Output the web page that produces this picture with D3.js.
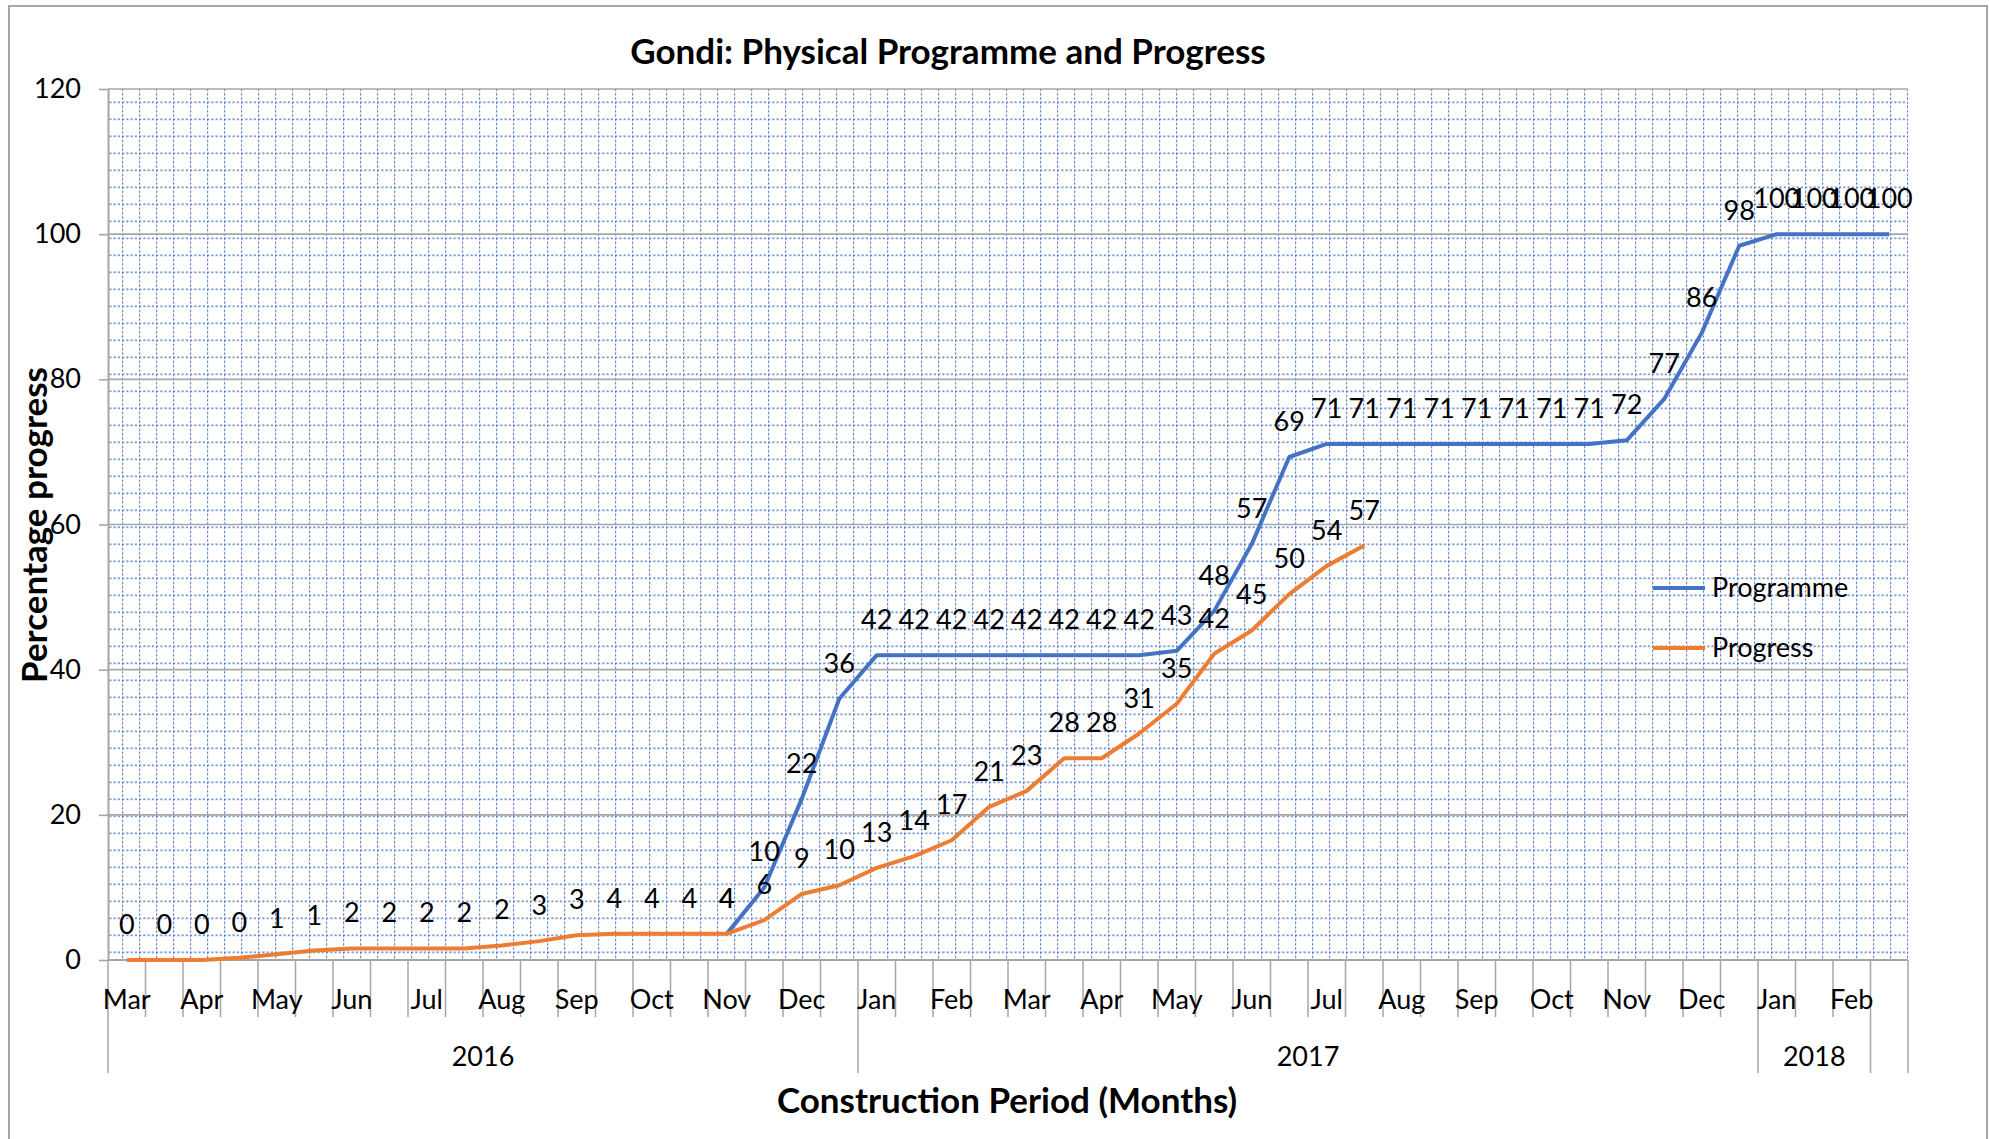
<!DOCTYPE html>
<html>
<head>
<meta charset="utf-8">
<script src="https://cdn.jsdelivr.net/npm/d3@7"></script>
<style>
  body { margin: 0; background: #fff; }
  svg { display: block; font-family: Lato, "Open Sans", sans-serif; }
  .lbl { font-size: 27px; fill: #000; }
  .ttl { font-size: 35px; font-weight: bold; fill: #000; }
</style>
</head>
<body>
<svg width="1989" height="1139"></svg>
<script>
// half-month slots, two per month, Mar 2016 .. Feb 2018
const months = ["Mar", "Apr", "May", "Jun", "Jul", "Aug", "Sep", "Oct", "Nov", "Dec",
                "Jan", "Feb", "Mar", "Apr", "May", "Jun", "Jul", "Aug", "Sep", "Oct", "Nov", "Dec",
                "Jan", "Feb"];
const years = ["2016", "2017", "2018", ""];
const yearSlots = [20, 24, 3, 1];

const programme = [null, null, null, null, null, null, null, null,
                   null, null, null, null, null, null, null, null,
                   3.6, 10.0, 22.2, 36.0, 42.0, 42.0, 42.0, 42.0,
                   42.0, 42.0, 42.0, 42.0, 42.6, 48.1, 57.3, 69.3,
                   71.1, 71.1, 71.1, 71.1, 71.1, 71.1, 71.1, 71.1,
                   71.6, 77.3, 86.4, 98.4, 100, 100, 100, 100];
const progress = [0, 0, 0, 0.3, 0.8, 1.3, 1.6, 1.6,
                  1.6, 1.6, 2.0, 2.6, 3.4, 3.6, 3.6, 3.6,
                  3.6, 5.5, 9.1, 10.3, 12.7, 14.3, 16.5, 21.1,
                  23.3, 27.8, 27.8, 31.2, 35.3, 42.2, 45.4, 50.4,
                  54.3, 57.1];
const yTicks = [0, 20, 40, 60, 80, 100, 120];

const series = [
  { name: "Programme", values: programme, color: "#4472C4" },
  { name: "Progress", values: progress, color: "#ED7D31" }
];

const svg = d3.select("svg");
const plotL = 108, plotR = 1908, plotT = 89, plotB = 960;

const slots = d3.range(months.length * 2);
const x = d3.scaleBand().domain(slots).range([plotL, plotR]);
const y = d3.scaleLinear().domain([0, 120]).range([plotB, plotT]);
const cx = i => x(i) + x.bandwidth() / 2;

// chart border
svg.append("rect")
  .attr("x", 9).attr("y", 6).attr("width", 1978).attr("height", 1200)
  .attr("fill", "#fff").attr("stroke", "#a6a6a6").attr("stroke-width", 2);

// dotted grid fill of the plot area
const pat = svg.append("defs").append("pattern")
  .attr("id", "dots")
  .attr("patternUnits", "userSpaceOnUse")
  .attr("x", 122).attr("y", 101.6)
  .attr("width", 17).attr("height", 17);
pat.append("line").attr("x1", 0.6).attr("x2", 0.6).attr("y1", 0).attr("y2", 17)
  .attr("stroke", "#4472C4").attr("stroke-width", 1.1).attr("stroke-dasharray", "2.25,2");
pat.append("line").attr("y1", 0.6).attr("y2", 0.6).attr("x1", 0).attr("x2", 17)
  .attr("stroke", "#4472C4").attr("stroke-width", 1.1).attr("stroke-dasharray", "2.25,2");

svg.append("rect")
  .attr("x", plotL).attr("y", plotT).attr("width", plotR - plotL).attr("height", plotB - plotT)
  .attr("fill", "url(#dots)");

// major gridlines + y labels
const yAxis = svg.append("g")
  .attr("transform", `translate(${plotL},0)`)
  .call(d3.axisLeft(y).tickValues(yTicks).tickSize(9).tickPadding(18).tickSizeOuter(0));
yAxis.select(".domain").attr("stroke", "#a6a6a6").attr("stroke-width", 2);
yAxis.selectAll(".tick line").attr("stroke", "#a6a6a6").attr("stroke-width", 1.6);
yAxis.attr("font-family", null).attr("font-size", null);
yAxis.selectAll(".tick text").attr("class", "lbl");

svg.append("g")
  .selectAll("line")
  .data(yTicks.filter(d => d > 0))
  .enter().append("line")
  .attr("x1", plotL).attr("x2", plotR)
  .attr("y1", d => y(d)).attr("y2", d => y(d))
  .attr("stroke", "#a6a6a6").attr("stroke-width", 1.6);

// category axis: slot boundaries, month level, year level
const axisG = svg.append("g");
axisG.append("line")
  .attr("x1", plotL).attr("x2", plotR).attr("y1", plotB).attr("y2", plotB)
  .attr("stroke", "#a6a6a6").attr("stroke-width", 2);

const bounds = slots.concat([slots.length]);
const yearEdges = [0];
yearSlots.forEach((n, i) => yearEdges.push(yearEdges[i] + n));
const edgeX = i => i < slots.length ? x(i) : plotR;

axisG.selectAll(".slotTick")
  .data(bounds)
  .enter().append("line")
  .attr("x1", edgeX).attr("x2", edgeX)
  .attr("y1", plotB)
  .attr("y2", d => yearEdges.includes(d) ? 1073 : 1017)
  .attr("stroke", "#a6a6a6").attr("stroke-width", 1.5);

axisG.selectAll(".month")
  .data(months)
  .enter().append("text")
  .attr("class", "lbl")
  .attr("x", (d, i) => cx(i * 2))
  .attr("y", 1009)
  .attr("text-anchor", "middle")
  .text(d => d);

axisG.selectAll(".year")
  .data(years)
  .enter().append("text")
  .attr("class", "lbl")
  .attr("x", (d, i) => (edgeX(yearEdges[i]) + edgeX(yearEdges[i + 1])) / 2)
  .attr("y", 1066)
  .attr("text-anchor", "middle")
  .text(d => d);

// lines
const line = d3.line()
  .defined(d => d != null)
  .x((d, i) => cx(i))
  .y(d => y(d));

svg.append("g")
  .selectAll("path")
  .data(series)
  .enter().append("path")
  .attr("d", s => line(s.values))
  .attr("fill", "none")
  .attr("stroke", s => s.color)
  .attr("stroke-width", 4)
  .attr("stroke-linejoin", "round");

// data labels
series.forEach(s => {
  svg.append("g")
    .selectAll("text")
    .data(s.values.map((v, i) => ({ v, i })).filter(d => d.v != null))
    .enter().append("text")
    .attr("class", "lbl")
    .attr("x", d => cx(d.i))
    .attr("y", d => y(d.v) - 26)
    .attr("text-anchor", "middle")
    .text(d => Math.round(d.v));
});

// legend
const legend = svg.append("g")
  .selectAll("g")
  .data(series)
  .enter().append("g")
  .attr("transform", (d, i) => `translate(1653,${588 + i * 60})`);
legend.append("line")
  .attr("x1", 0).attr("x2", 52)
  .attr("stroke", d => d.color).attr("stroke-width", 4);
legend.append("text")
  .attr("class", "lbl")
  .attr("x", 59).attr("y", 9)
  .text(d => d.name);

// titles
svg.append("text").attr("class", "ttl")
  .attr("x", 948).attr("y", 64).attr("text-anchor", "middle")
  .text("Gondi: Physical Programme and Progress");
svg.append("text").attr("class", "ttl")
  .attr("x", 1007).attr("y", 1113).attr("text-anchor", "middle")
  .text("Construction Period (Months)");
svg.append("text").attr("class", "ttl")
  .attr("transform", "translate(47,525) rotate(-90)")
  .attr("text-anchor", "middle")
  .text("Percentage progress");
</script>
</body>
</html>
